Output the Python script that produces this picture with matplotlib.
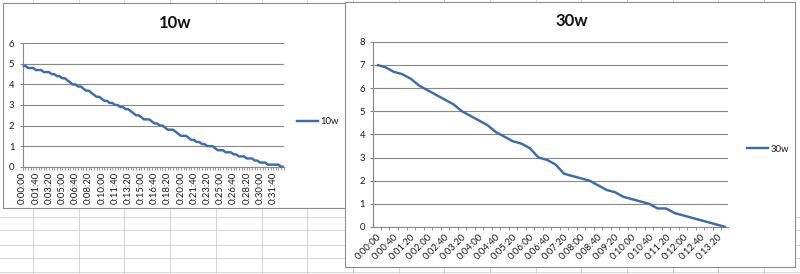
import matplotlib
matplotlib.use("Agg")
import numpy as np
import matplotlib.pyplot as plt
from matplotlib.lines import Line2D
from matplotlib.patches import Rectangle
from matplotlib.ticker import FixedLocator

# ---------------- data ----------------
step_s = 20


def hms(s):
    return f"{s // 3600}:{(s % 3600) // 60:02d}:{s % 60:02d}"


values_10w = [
    4.9, 4.9, 4.8, 4.8, 4.8, 4.7, 4.7, 4.7, 4.6, 4.6,
    4.6, 4.5, 4.5, 4.4, 4.4, 4.3, 4.3, 4.2, 4.1, 4.0,
    4.0, 3.9, 3.9, 3.8, 3.7, 3.7, 3.6, 3.5, 3.4, 3.4,
    3.3, 3.2, 3.2, 3.1, 3.1, 3.0, 3.0, 2.9, 2.9, 2.8,
    2.8, 2.7, 2.6, 2.5, 2.5, 2.4, 2.3, 2.3, 2.3, 2.2,
    2.1, 2.1, 2.0, 2.0, 1.9, 1.8, 1.8, 1.8, 1.7, 1.6,
    1.5, 1.5, 1.5, 1.4, 1.3, 1.3, 1.2, 1.2, 1.1, 1.1,
    1.0, 1.0, 1.0, 0.9, 0.8, 0.8, 0.8, 0.7, 0.7, 0.7,
    0.6, 0.6, 0.5, 0.5, 0.5, 0.4, 0.4, 0.4, 0.3, 0.3,
    0.2, 0.2, 0.2, 0.1, 0.1, 0.1, 0.1, 0.1, 0.0, 0.0,
]
values_30w = [
    7.0, 6.9, 6.7, 6.6, 6.4, 6.1, 5.9, 5.7, 5.5, 5.3,
    5.0, 4.8, 4.6, 4.4, 4.1, 3.9, 3.7, 3.6, 3.4, 3.0,
    2.9, 2.7, 2.3, 2.2, 2.1, 2.0, 1.8, 1.6, 1.5, 1.3,
    1.2, 1.1, 1.0, 0.8, 0.8, 0.6, 0.5, 0.4, 0.3, 0.2,
    0.1, 0.0,
]
times_10w = [hms(i * step_s) for i in range(len(values_10w))]
times_30w = [hms(i * step_s) for i in range(len(values_30w))]
label_every_10w = 5
label_every_30w = 2
yticks_10w = [0, 1, 2, 3, 4, 5, 6]
yticks_30w = [0, 1, 2, 3, 4, 5, 6, 7, 8]

# ---------------- style ----------------
plt.rcParams['font.family'] = ['Lato', 'DejaVu Sans']
W, H = 800, 274
LINE_C = '#3a6cb0'
GRID_C = '#888888'
TXT_C = '#1a1a1a'
TICK_FS = 6.8


def fx(x):
    return x / W


def fy(y):
    return 1 - y / H


fig = plt.figure(figsize=(W / 100, H / 100), dpi=100)
fig.patch.set_facecolor('white')

# spreadsheet background grid
col_lines = [33, 79, 124, 170, 216, 262, 307, 353, 399, 444, 490, 536, 581,
             627, 673, 718, 764]
row_lines = [217, 230, 245, 258, 272]
for x in col_lines:
    fig.add_artist(Line2D([fx(x)] * 2, [0, 1], color='#d6d6d6', lw=0.7, zorder=-3))
for y in row_lines:
    fig.add_artist(Line2D([0, 1], [fy(y)] * 2, color='#d6d6d6', lw=0.7, zorder=-3))

# chart frames
fig.add_artist(Rectangle((fx(2.7), fy(208)), fx(346) - fx(2.7), fy(3) - fy(208),
                         facecolor='white', edgecolor='#8c8c8c', lw=0.8, zorder=-2))
fig.add_artist(Rectangle((fx(345), fy(267)), fx(795) - fx(345), fy(1.7) - fy(267),
                         facecolor='white', edgecolor='#8c8c8c', lw=0.8, zorder=-1))


def make_axes(x0, y_top, x1, y_bot):
    ax = fig.add_axes([fx(x0), fy(y_bot), fx(x1) - fx(x0), fy(y_top) - fy(y_bot)])
    ax.set_zorder(5)
    ax.set_facecolor('none')
    for s in ['top', 'right']:
        ax.spines[s].set_visible(False)
    for s in ['left', 'bottom']:
        ax.spines[s].set_color(GRID_C)
        ax.spines[s].set_linewidth(0.8)
    ax.yaxis.grid(True, color=GRID_C, lw=0.8)
    ax.set_axisbelow(True)
    ax.tick_params(axis='y', length=2, width=0.8, color=GRID_C, labelsize=TICK_FS,
                   labelcolor=TXT_C, pad=4)
    return ax


# ---------- left chart: 10w ----------
ax1 = make_axes(22.7, 43.3, 283.7, 166.7)
n1 = len(values_10w)
ax1.plot(range(n1), values_10w, color=LINE_C, lw=1.75, solid_joinstyle='round',
         solid_capstyle='butt', clip_on=False, zorder=3)
ax1.set_xlim(0, n1 - 1)
ax1.set_ylim(0, 6)
ax1.set_yticks(yticks_10w)
maj1 = list(range(0, n1, label_every_10w))
ax1.set_xticks(maj1)
ax1.set_xticklabels([times_10w[i] for i in maj1], rotation=90)
ax1.xaxis.set_minor_locator(FixedLocator(range(n1)))
ax1.tick_params(axis='x', which='both', length=2.2, width=0.6, color=GRID_C,
                labelsize=TICK_FS, labelcolor=TXT_C, pad=1.5)
fig.text(fx(175), fy(23), '10w', ha='center', va='center', fontsize=12,
         weight='bold', color='#111111')
ax1.legend([Line2D([], [], color=LINE_C, lw=1.75)], ['10w'], loc='center left',
           bbox_to_anchor=(fx(297), fy(121.5)), bbox_transform=fig.transFigure,
           frameon=False, fontsize=TICK_FS, handlelength=2.2, handletextpad=0.3,
           borderpad=0, borderaxespad=0, labelcolor=TXT_C)

# ---------- right chart: 30w ----------
ax2 = make_axes(373.3, 41.7, 728.3, 227)
n2 = len(values_30w)
ax2.plot(range(n2), values_30w, color=LINE_C, lw=1.75, solid_joinstyle='round',
         solid_capstyle='butt', clip_on=False, zorder=3)
ax2.set_xlim(-0.4, n2 - 1 + 0.3)
ax2.set_ylim(0, 8)
ax2.set_yticks(yticks_30w)
maj2 = list(range(0, n2, label_every_30w))
ax2.set_xticks(maj2)
ax2.set_xticklabels([times_30w[i] for i in maj2], rotation=45, ha='right',
                    rotation_mode='anchor')
ax2.xaxis.set_minor_locator(FixedLocator(np.arange(0.5, n2 - 0.5, 1)))
ax2.tick_params(axis='x', which='major', length=0, labelsize=TICK_FS,
                labelcolor=TXT_C, pad=4)
ax2.tick_params(axis='x', which='minor', length=2.5, width=0.6, color=GRID_C)
fig.text(fx(571.5), fy(20.5), '30w', ha='center', va='center', fontsize=12,
         weight='bold', color='#111111')
ax2.legend([Line2D([], [], color=LINE_C, lw=1.75)], ['30w'], loc='center left',
           bbox_to_anchor=(fx(747), fy(149.3)), bbox_transform=fig.transFigure,
           frameon=False, fontsize=TICK_FS, handlelength=2.2, handletextpad=0.3,
           borderpad=0, borderaxespad=0, labelcolor=TXT_C)

fig.savefig('out.png', dpi=100, facecolor='white')
